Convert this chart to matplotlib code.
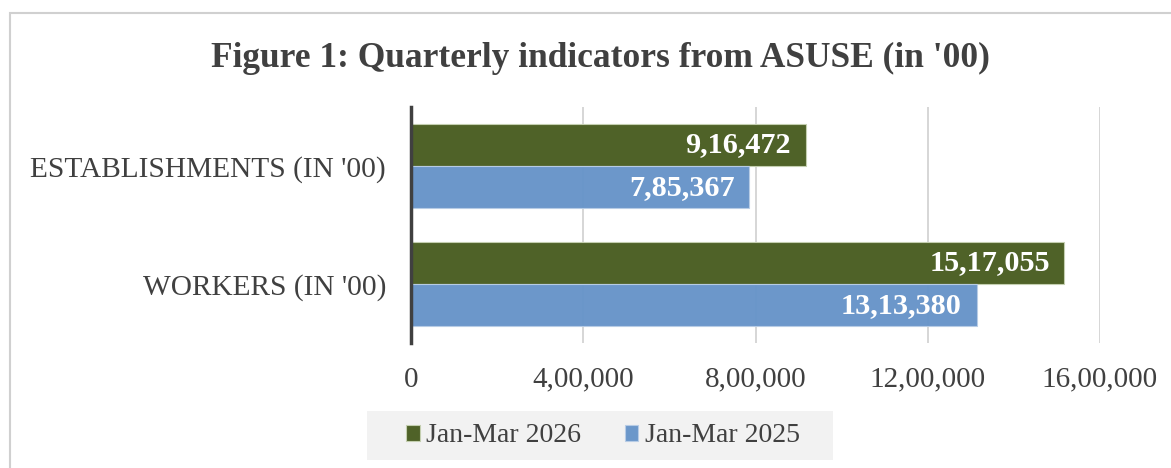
import matplotlib.pyplot as plt
import numpy as np
from matplotlib.patches import Rectangle

# data (values in '00)
categories = ["WORKERS (IN '00)", "ESTABLISHMENTS (IN '00)"]
jan_mar_2026 = [1517055, 916472]
jan_mar_2025 = [1313380, 785367]
series_names = ["Jan-Mar 2026", "Jan-Mar 2025"]
xticks = [0, 400000, 800000, 1200000, 1600000]

GREEN = "#4f6228"
BLUE = "#6794c9"
TXT = "#404040"


def indian_fmt(v):
    s = str(int(round(v)))
    if len(s) <= 3:
        return s
    head, tail = s[:-3], s[-3:]
    parts = []
    while len(head) > 2:
        parts.insert(0, head[-2:])
        head = head[:-2]
    if head:
        parts.insert(0, head)
    return ",".join(parts) + "," + tail


plt.rcParams['font.family'] = ['Liberation Serif', 'DejaVu Serif']

W, H = 1171, 468
fig = plt.figure(figsize=(W / 100, H / 100), dpi=100)
# outer chart border
fig.patches.append(Rectangle((10 / W, -0.1), 1.2, 1.1 - 13 / H,
                             transform=fig.transFigure, fill=False,
                             edgecolor="#d0d0d0", lw=1.5))
# legend background box
fig.patches.append(Rectangle((367 / W, 1 - 460 / H), 466 / W, 49 / H,
                             transform=fig.transFigure, facecolor="#f2f2f2",
                             edgecolor="none", zorder=0))

ax = fig.add_axes([411 / W, 1 - 343 / H, 689 / W, 236 / H])

y = np.arange(len(categories))
h = 0.36
b1 = ax.barh(y + h / 2, jan_mar_2026, height=h, color=GREEN,
             edgecolor="#c4cfb0", lw=0.8, label=series_names[0], zorder=2)
b2 = ax.barh(y - h / 2, jan_mar_2025, height=h, color=BLUE,
             edgecolor="#b8cde6", lw=0.8, label=series_names[1], zorder=2, alpha=0.97)

for bars in (b1, b2):
    for r in bars:
        w = r.get_width()
        ax.text(w - 34000, r.get_y() + r.get_height() / 2, indian_fmt(w),
                ha="right", va="center", color="white", fontsize=21.8,
                fontweight="bold", zorder=3)

ax.set_xlim(0, 1600000)
ax.set_ylim(-0.5, 1.5)
ax.set_xticks(xticks)
ax.set_xticklabels([indian_fmt(v) for v in xticks])
ax.set_yticks(y)
ax.set_yticklabels(categories)
ax.tick_params(axis="both", length=0, colors=TXT)
ax.tick_params(axis="x", pad=17, labelsize=21)
ax.tick_params(axis="y", pad=18, labelsize=21.2)
ax.grid(axis="x", color="#d0d0d0", lw=1.2, zorder=0)
for s in ["top", "right", "bottom"]:
    ax.spines[s].set_visible(False)
ax.spines["left"].set_color(TXT)
ax.spines["left"].set_linewidth(2.5)
ax.spines["left"].set_zorder(4)

fig.text(600 / W, 1 - 58 / H, "Figure 1: Quarterly indicators from ASUSE (in '00)",
         ha="center", va="center", fontsize=25.5, fontweight="bold", color=TXT)

leg = fig.legend(loc="center", bbox_to_anchor=(603 / W, 1 - 436 / H),
                 ncol=2, frameon=False, fontsize=20, handlelength=0.5,
                 handleheight=0.5, handletextpad=0.25, columnspacing=1.55)
for t in leg.get_texts():
    t.set_color(TXT)

fig.savefig("out.png", dpi=100)
